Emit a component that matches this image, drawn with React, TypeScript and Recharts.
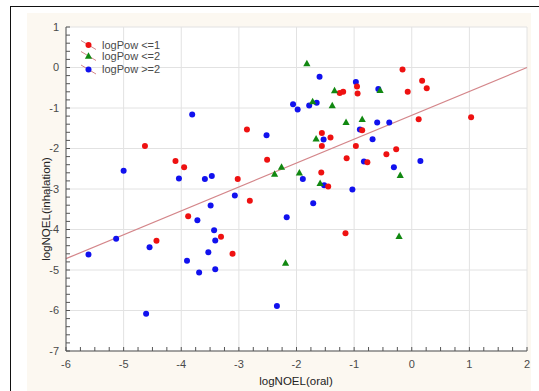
import React from 'react'
import {
  ScatterChart,
  Scatter,
  XAxis,
  YAxis,
  CartesianGrid,
  ReferenceLine,
  Legend,
  Label,
} from 'recharts'

// logPow <= 1
const lowPow = [
  { x: -4.63, y: -1.94 }, { x: -4.1, y: -2.31 }, { x: -3.95, y: -2.46 },
  { x: -2.86, y: -1.53 }, { x: -2.51, y: -2.28 }, { x: -3.02, y: -2.75 },
  { x: -2.81, y: -3.29 }, { x: -1.56, y: -1.62 }, { x: -1.41, y: -1.73 },
  { x: -1.56, y: -1.94 }, { x: -0.97, y: -1.94 }, { x: -1.13, y: -2.24 },
  { x: -1.57, y: -2.59 }, { x: -1.45, y: -2.94 }, { x: -0.95, y: -0.47 },
  { x: -0.94, y: -0.64 }, { x: -1.25, y: -0.63 }, { x: -1.19, y: -0.6 },
  { x: -0.16, y: -0.05 }, { x: 0.18, y: -0.33 }, { x: 0.26, y: -0.51 },
  { x: -0.07, y: -0.6 }, { x: 0.12, y: -1.28 }, { x: 1.03, y: -1.23 },
  { x: -0.86, y: -1.55 }, { x: -0.44, y: -2.14 }, { x: -0.27, y: -2.02 },
  { x: -0.77, y: -2.34 }, { x: -4.43, y: -4.28 }, { x: -3.88, y: -3.67 },
  { x: -3.31, y: -4.18 }, { x: -3.11, y: -4.6 }, { x: -1.15, y: -4.09 },
]

// logPow <= 2
const midPow = [
  { x: -1.82, y: 0.1 }, { x: -1.34, y: -0.57 }, { x: -1.72, y: -0.84 },
  { x: -1.38, y: -0.94 }, { x: -1.14, y: -1.35 }, { x: -0.86, y: -1.28 },
  { x: -1.66, y: -1.76 }, { x: -2.26, y: -2.46 }, { x: -2.38, y: -2.63 },
  { x: -1.95, y: -2.6 }, { x: -1.59, y: -2.86 }, { x: -0.55, y: -0.56 },
  { x: -0.2, y: -2.66 }, { x: -2.19, y: -4.83 }, { x: -0.22, y: -4.17 },
]

// logPow >= 2
const highPow = [
  { x: -3.81, y: -1.16 }, { x: -5.0, y: -2.55 }, { x: -4.04, y: -2.74 },
  { x: -3.59, y: -2.75 }, { x: -3.47, y: -2.68 }, { x: -1.6, y: -0.23 },
  { x: -0.97, y: -0.36 }, { x: -2.06, y: -0.91 }, { x: -1.98, y: -1.04 },
  { x: -1.78, y: -0.94 }, { x: -1.65, y: -0.87 }, { x: -0.9, y: -1.53 },
  { x: -2.52, y: -1.67 }, { x: -1.53, y: -1.78 }, { x: -1.89, y: -2.75 },
  { x: -1.52, y: -2.91 }, { x: -1.03, y: -3.01 }, { x: -3.07, y: -3.16 },
  { x: -0.58, y: -0.53 }, { x: -0.6, y: -1.36 }, { x: -0.39, y: -1.36 },
  { x: -0.68, y: -1.77 }, { x: -0.83, y: -2.32 }, { x: -0.31, y: -2.46 },
  { x: 0.15, y: -2.31 }, { x: -5.61, y: -4.62 }, { x: -5.13, y: -4.23 },
  { x: -4.55, y: -4.44 }, { x: -3.72, y: -3.77 }, { x: -3.49, y: -3.41 },
  { x: -3.43, y: -4.02 }, { x: -3.41, y: -4.27 }, { x: -3.53, y: -4.56 },
  { x: -3.9, y: -4.77 }, { x: -3.69, y: -5.06 }, { x: -3.41, y: -4.98 },
  { x: -4.61, y: -6.08 }, { x: -1.71, y: -3.35 }, { x: -2.17, y: -3.7 },
  { x: -2.34, y: -5.89 },
]

// linear fit, end points
const fitLine = [{ x: -6, y: -4.72 }, { x: 2, y: 0 }]

const xMajor = [-6, -5, -4, -3, -2, -1, 0, 1, 2]
const yMajor = [1, 0, -1, -2, -3, -4, -5, -6, -7]

// minor tick marks between the labelled ones
const subdivide = (majors: number[], n: number) => {
  const s = [...majors].sort((a, b) => a - b)
  const out: number[] = []
  for (let i = 0; i < s.length - 1; i++) {
    for (let k = 0; k < n; k++) out.push(Math.round((s[i] + (k * (s[i + 1] - s[i])) / n) * 1000) / 1000)
  }
  out.push(s[s.length - 1])
  return out
}
const xMinor = subdivide(xMajor, 4)
const yMinor = subdivide(yMajor, 5)

const FONT = '"Liberation Sans", Arial, sans-serif'
const LINE = '#d4868a'

const series = [
  { name: 'logPow <=1', color: '#ee1111', shape: 'circle', data: lowPow },
  { name: 'logPow <=2', color: '#118811', shape: 'triangle', data: midPow },
  { name: 'logPow >=2', color: '#1111ee', shape: 'circle', data: highPow },
]

const Marker = ({ cx, cy, color, shape }: any) =>
  shape === 'triangle' ? (
    <polygon points={`${cx},${cy - 3.8} ${cx - 3.6},${cy + 2.7} ${cx + 3.6},${cy + 2.7}`} fill={color} />
  ) : (
    <circle cx={cx} cy={cy} r={3} fill={color} />
  )

const XTick = ({ x, y, payload }: any) =>
  Number.isInteger(payload.value) ? (
    <text x={x} y={y} dy="0.71em" textAnchor="middle" fontSize={11} fontFamily={FONT} fill="#4a4a4a">
      {payload.value}
    </text>
  ) : null

const YTick = ({ x, y, payload }: any) =>
  Number.isInteger(payload.value) ? (
    <text x={x} y={y} dy="0.36em" textAnchor="end" fontSize={11} fontFamily={FONT} fill="#4a4a4a">
      {payload.value}
    </text>
  ) : null

const rowY = [9, 20, 33.5]
const LegendBox = () => (
  <svg width={110} height={42} style={{ display: 'block' }}>
    {series.map((s, i) => (
      <g key={s.name}>
        <line x1={3} y1={rowY[i] - 4.5} x2={18} y2={rowY[i] + 4.5} stroke={LINE} strokeWidth={1} />
        <Marker cx={10.5} cy={rowY[i]} color={s.color} shape={s.shape} />
        <text x={24} y={rowY[i]} dy="0.36em" fontSize={11} fontFamily={FONT} fill="#4a4a4a">
          {s.name}
        </text>
      </g>
    ))}
  </svg>
)

export default function App() {
  return (
    <div style={{ position: 'absolute', left: 0, top: 0, width: 539, height: 391, overflow: 'hidden', background: '#fff' }}>
      <div style={{ position: 'absolute', left: 10, top: 6, width: 600, height: 500, borderTop: '1px solid #111', borderLeft: '1px solid #111' }} />
      <div style={{ position: 'absolute', left: 27, top: 13, width: 504, height: 400, background: '#fcf8f1' }} />
      <div style={{ position: 'absolute', left: 0, top: 0 }}>
        <ScatterChart width={539} height={391} margin={{ top: 27, right: 12, bottom: 10, left: 36 }}>
          <CartesianGrid
            xAxisId="x"
            yAxisId="y"
            stroke="#e2e2e2"
            fill="#fff"
            fillOpacity={1}
            verticalValues={xMajor}
            horizontalValues={yMajor}
          />
          <XAxis
            xAxisId="x"
            type="number"
            dataKey="x"
            domain={[-6, 2]}
            ticks={xMinor}
            interval={0}
            height={30}
            tickSize={-4}
            tickMargin={13}
            stroke="#555"
            tick={<XTick />}
            allowDataOverflow
          >
            <Label
              content={() => (
                <text x={296} y={381} dy="0.36em" textAnchor="middle" fontSize={11.5} fontFamily={FONT} fill="#222">
                  logNOEL(oral)
                </text>
              )}
            />
          </XAxis>
          <XAxis
            xAxisId="top"
            orientation="top"
            type="number"
            domain={[-6, 2]}
            ticks={xMinor}
            interval={0}
            height={0}
            tickSize={-4}
            tick={false}
            stroke="#555"
            allowDataOverflow
          />
          <YAxis
            yAxisId="y"
            type="number"
            dataKey="y"
            domain={[-7, 1]}
            ticks={yMinor}
            interval={0}
            width={30}
            tickSize={-4}
            tickMargin={11}
            stroke="#555"
            tick={<YTick />}
            allowDataOverflow
          >
            <Label
              content={() => (
                <text
                  transform="translate(46,209) rotate(-90)"
                  x={0}
                  y={0}
                  dy="0.36em"
                  textAnchor="middle"
                  fontSize={11.5}
                  fontFamily={FONT}
                  fill="#222"
                >
                  logNOEL(inhalation)
                </text>
              )}
            />
          </YAxis>
          <YAxis
            yAxisId="right"
            orientation="right"
            type="number"
            domain={[-7, 1]}
            ticks={yMinor}
            interval={0}
            width={0}
            tickSize={-4}
            tick={false}
            stroke="#555"
            allowDataOverflow
          />
          <ReferenceLine xAxisId="x" yAxisId="y" segment={fitLine} stroke={LINE} strokeWidth={1.2} />
          <Legend
            layout="horizontal"
            verticalAlign="middle"
            align="center"
            content={<LegendBox />}
            wrapperStyle={{ position: 'absolute', left: 78, top: 36, width: 110 }}
          />
          {[series[2], series[0], series[1]].map((s) => (
            <Scatter
              key={s.name}
              name={s.name}
              data={s.data}
              xAxisId="x"
              yAxisId="y"
              fill={s.color}
              isAnimationActive={false}
              shape={(p: any) => <Marker cx={p.cx} cy={p.cy} color={s.color} shape={s.shape} />}
            />
          ))}
        </ScatterChart>
      </div>
    </div>
  )
}
